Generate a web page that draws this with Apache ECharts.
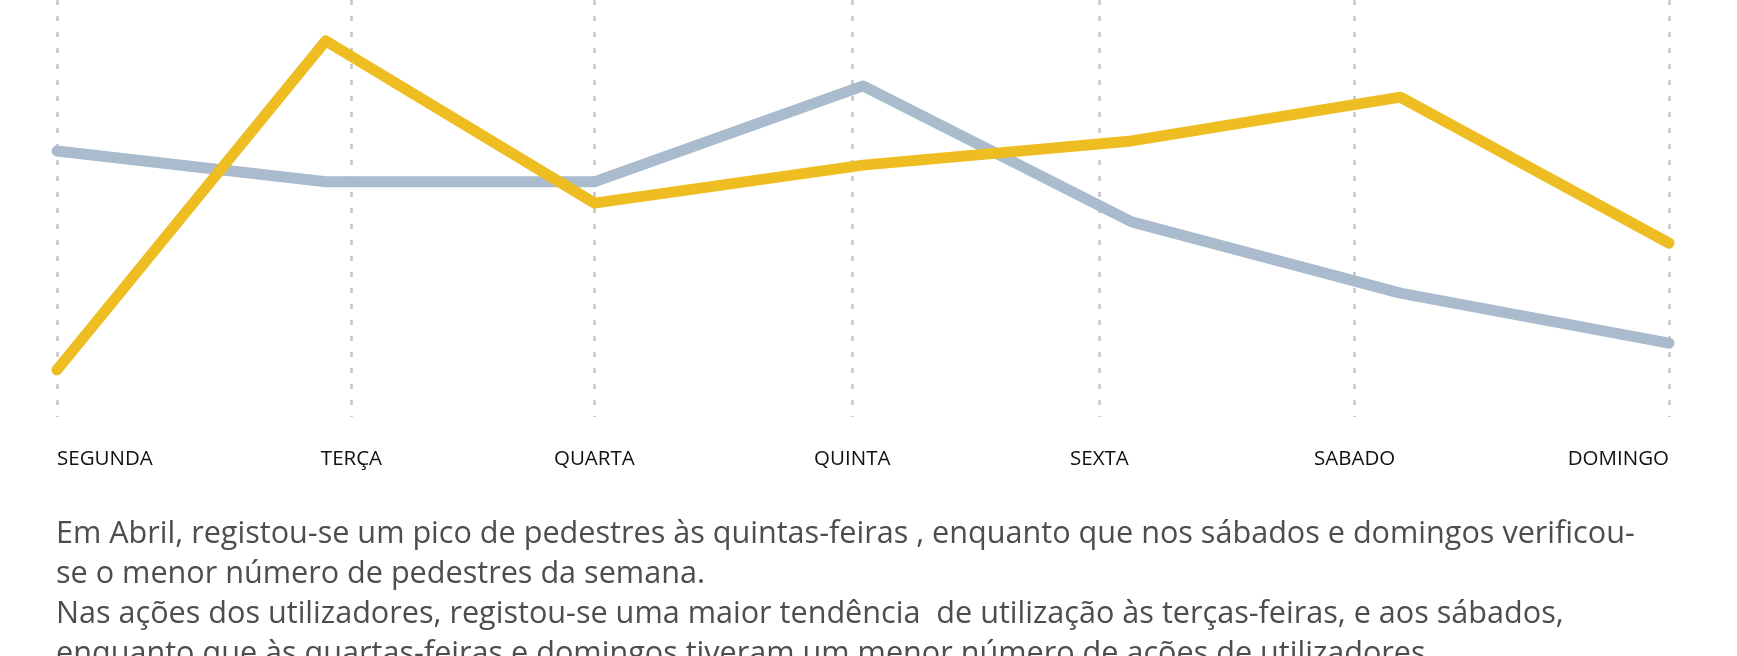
<!DOCTYPE html>
<html>
<head>
<meta charset="utf-8">
<script src="https://cdn.jsdelivr.net/npm/echarts@6/dist/echarts.min.js"></script>
<style>
html,body{margin:0;padding:0;background:#fff;}
#chart{width:1737px;height:656px;}
</style>
</head>
<body>
<div id="chart"></div>
<script>
// Days of the week (data positions 0..6)
const days = ['SEGUNDA', 'TERÇA', 'QUARTA', 'QUINTA', 'SEXTA', 'SABADO', 'DOMINGO'];
// Relative values (no y scale shown)
const pedestres = [63.8, 56.4, 56.4, 79.4, 46.8, 29.7, 17.7];
const acoes = [11.3, 90.2, 51.3, 60.4, 66.2, 76.7, 41.7];
// Positions of the dashed gridlines / labels along the day axis
const tickPositions = [0, 1.096, 2.0, 2.96, 3.88, 4.83, 6];
const tickLabels = days;
// Caption lines
const captionLines = [
  'Em Abril, registou-se um pico de pedestres às quintas-feiras , enquanto que nos sábados e domingos verificou-',
  'se o menor número de pedestres da semana.',
  'Nas ações dos utilizadores, registou-se uma maior tendência  de utilização às terças-feiras, e aos sábados,',
  'enquanto que às quartas-feiras e domingos tiveram um menor número de ações de utilizadores.'
];

const chart = echarts.init(document.getElementById('chart'), null, {renderer: 'canvas'});

chart.setOption({
  animation: false,
  backgroundColor: '#ffffff',
  grid: {left: 57, right: 68, top: 0, bottom: 239, containLabel: false},
  xAxis: {
    type: 'value',
    min: 0,
    max: 6,
    axisLine: {show: false},
    axisTick: {show: false, customValues: tickPositions},
    axisLabel: {
      customValues: tickPositions,
      formatter: v => {
        let best = 0, d = 1e9;
        tickPositions.forEach((p, i) => { if (Math.abs(p - v) < d) { d = Math.abs(p - v); best = i; } });
        return tickLabels[best];
      },
      color: '#111',
      fontFamily: 'Open Sans',
      fontSize: 20.5,
      margin: 32,
      alignMinLabel: 'left',
      alignMaxLabel: 'right',
      showMinLabel: true,
      showMaxLabel: true
    },
    splitLine: {show: true, lineStyle: {color: '#c4c4c4', width: 2.5, type: [5, 11]}}
  },
  yAxis: {
    type: 'value',
    min: 0,
    max: 100,
    show: false,
    splitLine: {show: false}
  },
  series: [
    {
      name: 'Pedestres',
      type: 'line',
      data: pedestres.map((v, i) => [i, v]),
      showSymbol: false,
      symbol: 'none',
      lineStyle: {color: '#aabbcd', width: 11, cap: 'round', join: 'round'},
      z: 2
    },
    {
      name: 'Ações dos utilizadores',
      type: 'line',
      data: acoes.map((v, i) => [i, v]),
      showSymbol: false,
      symbol: 'none',
      lineStyle: {color: '#eebd21', width: 11, cap: 'round', join: 'round'},
      z: 3
    }
  ],
  graphic: [
    {
      type: 'text',
      left: 56,
      top: 514,
      style: {
        text: captionLines.join('\n'),
        fill: '#4d4d4d',
        font: '30.6px "Open Sans"',
        lineHeight: 40
      }
    }
  ]
});
</script>
</body>
</html>
